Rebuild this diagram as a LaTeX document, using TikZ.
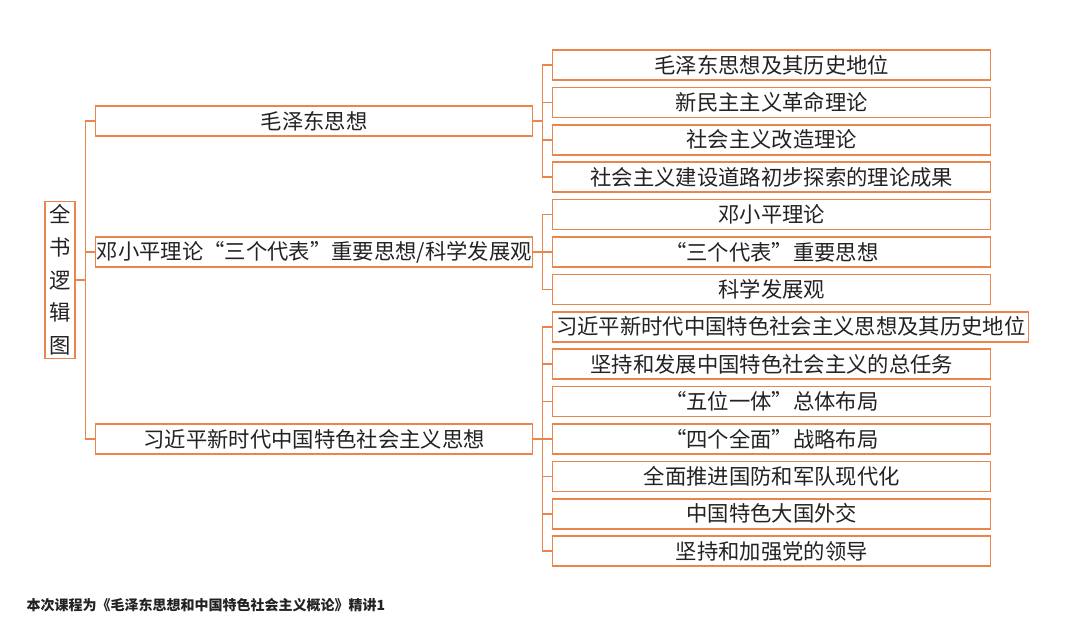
\documentclass[tikz,border=0pt]{standalone}
\usepackage{fontspec}
\setmainfont{Noto Sans CJK SC}
\usetikzlibrary{positioning}
\definecolor{lineorange}{RGB}{234,133,76}
\definecolor{inkgray}{RGB}{34,34,34}

\begin{document}
\begin{tikzpicture}[x=0.75pt, y=-0.75pt]
    \tikzstyle{box} = [rectangle,draw=lineorange,line width=1.1pt,fill=white,text=inkgray,font=\fontsize{16}{18}\selectfont,minimum height=22.5pt,inner sep=2.5pt,text centered]
    \tikzstyle{topic} = [box,minimum width=327.75pt,inner xsep=0.5pt,anchor=west]
    \tikzstyle{sub} = [box,minimum width=328.5pt]
    \tikzstyle{link} = [draw=lineorange,line width=1.1pt]

    \useasboundingbox (0,0) rectangle (1080,625);

    \node (root) [box,minimum width=22.5pt,minimum height=117.75pt,inner sep=1pt,align=center,font=\fontsize{16}{24.5}\selectfont] at (60,280) {全\\书\\逻\\辑\\图};

    \node (mao) [topic] at (95,121) {毛泽东思想};
    \node (deng) [topic] at (95,252) {邓小平理论“三个代表”重要思想/科学发展观};
    \node (xi) [topic] at (95,439) {习近平新时代中国特色社会主义思想};

    \node (s1) [sub,anchor=west] at (552,65) {毛泽东思想及其历史地位};
    \node (s2) [sub,below right=4.45pt and 0pt of s1.south west] {新民主主义革命理论};
    \node (s3) [sub,below right=4.45pt and 0pt of s2.south west] {社会主义改造理论};
    \node (s4) [sub,below right=4.45pt and 0pt of s3.south west] {社会主义建设道路初步探索的理论成果};
    \node (s5) [sub,below right=4.45pt and 0pt of s4.south west] {邓小平理论};
    \node (s6) [sub,below right=4.45pt and 0pt of s5.south west] {“三个代表”重要思想};
    \node (s7) [sub,below right=4.45pt and 0pt of s6.south west] {科学发展观};
    \node (s8) [sub,below right=4.45pt and 0pt of s7.south west] {习近平新时代中国特色社会主义思想及其历史地位};
    \node (s9) [sub,below right=4.45pt and 0pt of s8.south west] {坚持和发展中国特色社会主义的总任务};
    \node (s10) [sub,below right=4.45pt and 0pt of s9.south west] {“五位一体”总体布局};
    \node (s11) [sub,below right=4.45pt and 0pt of s10.south west] {“四个全面”战略布局};
    \node (s12) [sub,below right=4.45pt and 0pt of s11.south west] {全面推进国防和军队现代化};
    \node (s13) [sub,below right=4.45pt and 0pt of s12.south west] {中国特色大国外交};
    \node (s14) [sub,below right=4.45pt and 0pt of s13.south west] {坚持和加强党的领导};

    \node (note) [anchor=west,text=inkgray,font=\fontsize{10.5}{12}\selectfont\bfseries] at (22,605) {本次课程为《毛泽东思想和中国特色社会主义概论》精讲1};

    \draw [link] (root.east) -- ++(10,0) |- (mao.west);
    \draw [link] (root.east) -- ++(10,0) |- (deng.west);
    \draw [link] (root.east) -- ++(10,0) |- (xi.west);

    \draw [link] (mao.east) -- ++(9,0) |- (s1.west);
    \draw [link] (mao.east) -- ++(9,0) |- (s2.west);
    \draw [link] (mao.east) -- ++(9,0) |- (s3.west);
    \draw [link] (mao.east) -- ++(9,0) |- (s4.west);

    \draw [link] (deng.east) -- ++(9,0) |- (s5.west);
    \draw [link] (deng.east) -- ++(9,0) |- (s6.west);
    \draw [link] (deng.east) -- ++(9,0) |- (s7.west);

    \draw [link] (xi.east) -- ++(9,0) |- (s8.west);
    \draw [link] (xi.east) -- ++(9,0) |- (s9.west);
    \draw [link] (xi.east) -- ++(9,0) |- (s10.west);
    \draw [link] (xi.east) -- ++(9,0) |- (s11.west);
    \draw [link] (xi.east) -- ++(9,0) |- (s12.west);
    \draw [link] (xi.east) -- ++(9,0) |- (s13.west);
    \draw [link] (xi.east) -- ++(9,0) |- (s14.west);
\end{tikzpicture}
\end{document}
